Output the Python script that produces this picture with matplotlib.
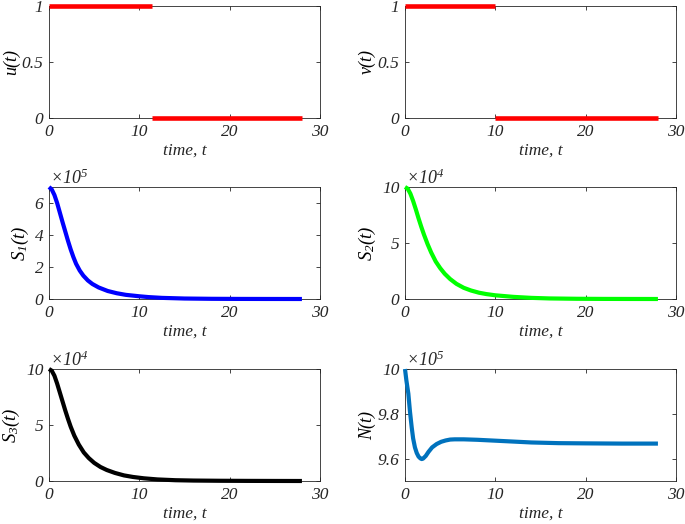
import numpy as np
import matplotlib
matplotlib.use("Agg")
import matplotlib.pyplot as plt

plt.rcParams['font.family'] = ['Liberation Serif', 'DejaVu Serif']
plt.rcParams['font.style'] = 'italic'
plt.rcParams['mathtext.fontset'] = 'custom'
plt.rcParams['mathtext.rm'] = 'Liberation Serif:italic'
plt.rcParams['mathtext.it'] = 'Liberation Serif:italic'

# controls: switching times, final time
u_switch = 11.35
v_switch = 9.95
t_end = 28.0

# state curves (S1 in 1e5, S2/S3 in 1e4, N in 1e5)
s1_t = [0, 0.3, 0.6, 0.9, 1.2, 1.5, 1.8, 2.1, 2.4, 2.7, 3.0, 3.4, 3.8, 4.3, 4.8, 5.5, 6.5, 7.5, 8.5, 10, 11, 12.5, 15, 18, 21, 24, 28]
s1_v = [7.0, 6.85, 6.5, 6.0, 5.4, 4.8, 4.22, 3.64, 3.1, 2.62, 2.2, 1.78, 1.46, 1.16, 0.94, 0.72, 0.5, 0.36, 0.26, 0.17, 0.12, 0.07, 0.03, 0.012, 0.005, 0.002, 0.0]

s2_t = [0, 0.3, 0.6, 0.9, 1.2, 1.5, 1.8, 2.1, 2.5, 2.9, 3.4, 3.9, 4.4, 5.0, 5.7, 6.5, 7.3, 8.2, 9.0, 10, 12, 14, 16, 19, 22, 25, 28]
s2_v = [10.0, 9.85, 9.4, 8.75, 8.0, 7.2, 6.45, 5.75, 4.9, 4.15, 3.35, 2.75, 2.25, 1.78, 1.35, 1.0, 0.76, 0.56, 0.44, 0.33, 0.19, 0.1, 0.05, 0.02, 0.008, 0.003, 0.0]

s3_t = [0, 0.3, 0.6, 0.9, 1.2, 1.5, 1.8, 2.1, 2.4, 2.8, 3.3, 3.85, 4.4, 5.0, 5.7, 6.4, 7.3, 8.3, 9.3, 10.5, 12, 14, 16, 19, 22, 25, 28]
s3_v = [10.0, 9.85, 9.4, 8.7, 7.9, 7.1, 6.3, 5.55, 4.85, 4.05, 3.25, 2.55, 2.05, 1.62, 1.25, 0.98, 0.72, 0.5, 0.36, 0.24, 0.14, 0.07, 0.04, 0.02, 0.01, 0.004, 0.0]

n_t = [0, 0.15, 0.37, 0.55, 0.74, 0.9, 1.1, 1.3, 1.5, 1.7, 1.85, 2.0, 2.3, 2.6, 3.0, 3.5, 4.0, 4.5, 5.0, 5.5, 6.5, 8.0, 10, 12, 14, 17, 20, 24, 28]
n_v = [10.0, 9.95, 9.89, 9.81, 9.74, 9.69, 9.65, 9.625, 9.609, 9.601, 9.598, 9.6, 9.612, 9.63, 9.65, 9.665, 9.675, 9.681, 9.685, 9.686, 9.686, 9.684, 9.68, 9.676, 9.672, 9.669, 9.668, 9.667, 9.667]

fig = plt.figure(figsize=(6.85, 5.24), dpi=100)
W, H = 685.0, 524.0
cols = [49, 405]
rows = [6, 187, 369]
aw, ah = 271, 112


def make_ax(col, row):
    ax = fig.add_axes([cols[col] / W, 1 - (rows[row] + ah) / H, aw / W, ah / H])
    ax.set_xlim(0, 30)
    ax.set_xticks([0, 10, 20, 30])
    ax.tick_params(direction='in', top=True, right=True, length=3, width=0.6,
                   labelsize=12.5, colors='#262626', pad=4)
    for s in ax.spines.values():
        s.set_color('#262626')
        s.set_linewidth(0.6)
    ax.set_xlabel('time, t', fontsize=12.5, color='#262626', labelpad=2)
    return ax


def exponent(ax, p):
    ax.text(0.005, 0.99, r'$\times 10^{%d}$' % p, transform=ax.transAxes,
            fontsize=13, ha='left', va='bottom', color='#262626')


def curve(ax, t, y, color, lw=3):
    ax.plot(t, y, color=color, lw=lw, clip_on=False, zorder=5,
            solid_joinstyle='round', solid_capstyle='butt')


# u(t)
ax = make_ax(0, 0)
curve(ax, [0, u_switch], [1, 1], 'red', 3.3)
curve(ax, [u_switch, t_end], [0, 0], 'red', 3.3)
ax.set_ylim(0, 1)
ax.set_yticks([0, 0.5, 1])
ax.set_yticklabels(['0', '0.5', '1'])
ax.set_ylabel('u(t)', fontsize=13, labelpad=1)

# v(t)
ax = make_ax(1, 0)
curve(ax, [0, v_switch], [1, 1], 'red', 3.3)
curve(ax, [v_switch, t_end], [0, 0], 'red', 3.3)
ax.set_ylim(0, 1)
ax.set_yticks([0, 0.5, 1])
ax.set_yticklabels(['0', '0.5', '1'])
ax.set_ylabel('v(t)', fontsize=13, labelpad=1)

# S1
ax = make_ax(0, 1)
curve(ax, s1_t, s1_v, 'blue')
ax.set_ylim(0, 7)
ax.set_yticks([0, 2, 4, 6])
ax.set_ylabel(r'$S_1(t)$', fontsize=13.5, labelpad=3)
exponent(ax, 5)

# S2
ax = make_ax(1, 1)
curve(ax, s2_t, s2_v, (0, 1, 0))
ax.set_ylim(0, 10)
ax.set_yticks([0, 5, 10])
ax.set_ylabel(r'$S_2(t)$', fontsize=13.5, labelpad=3)
exponent(ax, 4)

# S3
ax = make_ax(0, 2)
curve(ax, s3_t, s3_v, 'black')
ax.set_ylim(0, 10)
ax.set_yticks([0, 5, 10])
ax.set_ylabel(r'$S_3(t)$', fontsize=13.5, labelpad=3)
exponent(ax, 4)

# N
ax = make_ax(1, 2)
curve(ax, n_t, n_v, (0, 0.447, 0.741))
ax.set_ylim(9.5, 10)
ax.set_yticks([9.6, 9.8, 10])
ax.set_yticklabels(['9.6', '9.8', '10'])
ax.set_ylabel('N(t)', fontsize=13, labelpad=1)
exponent(ax, 5)

fig.savefig('out.png', dpi=100)
